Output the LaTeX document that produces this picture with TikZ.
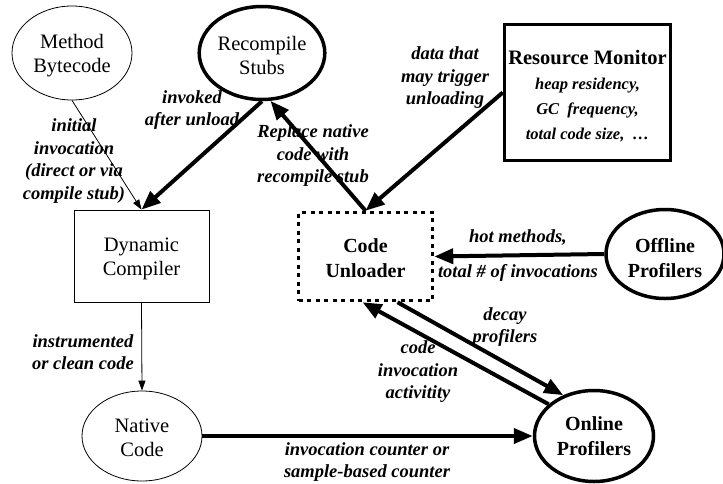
\documentclass[tikz,border=0pt]{standalone}
\usepackage{fontspec}
\setmainfont{Liberation Serif}
\usetikzlibrary{shapes.geometric,arrows.meta}
\newcommand{\toplift}[2]{\raisebox{#1}{\vphantom{#2}}#2}
\begin{document}
\begin{tikzpicture}[x=1pt,y=-1pt,
  regfont/.style={font=\fontsize{20.5}{24}\selectfont},
  boldfont/.style={font=\fontsize{20}{25}\selectfont\bfseries},
  thinell/.style={ellipse, draw, line width=0.8pt, inner sep=0pt, align=center, regfont},
  thickell/.style={ellipse, draw, line width=3.5pt, inner sep=0pt, align=center},
  thinbox/.style={rectangle, draw, line width=0.8pt, inner sep=0pt, align=center, regfont},
  dotbox/.style={rectangle, draw, line width=3.5pt, dash pattern=on 4pt off 4.5pt, inner sep=0pt, align=center, boldfont},
  thickbox/.style={rectangle, draw, line width=3.5pt, inner sep=0pt, align=center},
  lbl/.style={align=center, inner sep=0pt, font=\fontsize{18.5}{22.5}\selectfont\bfseries\itshape},
  thinarrow/.style={line width=0.8pt, -{Triangle[length=10pt,width=7pt]}},
  thickarrow/.style={line width=4pt, -{Triangle[length=19pt,width=15pt]}}
]
\useasboundingbox (0,0) rectangle (723,483);

% nodes
\node[thinell, minimum width=120pt, minimum height=94pt] (mb) at (72,53) {\toplift{6pt}{Method}\\Bytecode};
\node[thickell, regfont, minimum width=121pt, minimum height=93pt] (rs) at (262,53) {\toplift{5pt}{Recompile}\\Stubs};
\node[thinbox, minimum width=135pt, minimum height=92pt] (dc) at (141.5,256) {\toplift{6pt}{Dynamic}\\Compiler};
\node[thinell, minimum width=120pt, minimum height=90pt] (nc) at (142,436) {\toplift{4pt}{Native}\\Code};
\node[dotbox, minimum width=134pt, minimum height=88pt] (cu) at (365.5,256.5) {\toplift{4pt}{Code}\\Unloader};
\node[thickbox, minimum width=166pt, minimum height=136pt, font=\fontsize{16.5}{25}\selectfont\bfseries\itshape] (rm) at (587.5,92.5)
  {{\fontsize{20.5}{25}\selectfont\upshape\toplift{8pt}{Resource Monitor}}\\heap residency,\\GC~ frequency,\\total code size,~ …};
\node[thickell, boldfont, minimum width=118pt, minimum height=89pt] (op) at (665,254) {\toplift{9pt}{Offline}\\Profilers};
\node[thickell, boldfont, minimum width=119pt, minimum height=91pt] (on) at (594,436) {Online\\Profilers};

% connectors
\draw[thinarrow] (mb.south) -- (dc.north);
\draw[thickarrow] (rs.south) -- (dc.north);
\draw[thickarrow] (cu.north) -- (rs.280);
\draw[thickarrow] (rm.west) -- (cu.north);
\draw[thickarrow] (op.west) -- (cu.east);
\draw[thickarrow] ([xshift=32pt]cu.south) -- (on.127);
\draw[thickarrow] (on.145) -- ([xshift=-3pt]cu.south);
\draw[thinarrow] (dc.south) -- (nc.north);
\draw[thickarrow] (nc.east) -- (on.west);

% labels
\node[lbl] (l1) at (74,161) {initial\\invocation\\(direct or via\\compile stub)};
\node[lbl] (l2) at (192,110) {invoked\\after unload};
\node[lbl] (l3) at (313,156) {Replace native\\code with\\recompile stub};
\node[lbl] (l4) at (445,78) {data that\\may trigger\\unloading};
\node[lbl] (l5) at (518,238) {hot methods,};
\node[lbl] (l6) at (518,273) {total \# of invocations};
\node[lbl] (l7) at (505,327) {decay\\profilers};
\node[lbl] (l8) at (418,372) {code\\invocation\\activitity};
\node[lbl, anchor=east] (l9) at (134,352) {instrumented\\or clean code};
\node[lbl] (l10) at (367,462) {invocation counter or\\sample-based counter};
\end{tikzpicture}
\end{document}
